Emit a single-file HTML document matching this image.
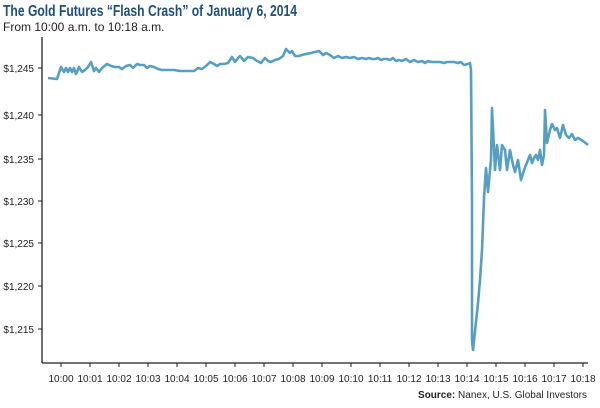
<!DOCTYPE html>
<html><head><style>
body{margin:0;background:#fff;width:600px;height:403px;overflow:hidden;font-family:"Liberation Sans",sans-serif}
</style></head><body>
<svg width="600" height="403" xmlns="http://www.w3.org/2000/svg" font-family="Liberation Sans, sans-serif">
<text x="3" y="16" font-size="15.5" font-weight="bold" fill="#1d4f7c" textLength="294" lengthAdjust="spacingAndGlyphs">The Gold Futures “Flash Crash” of January 6, 2014</text>
<text x="3" y="31" font-size="12" fill="#222">From 10:00 a.m. to 10:18 a.m.</text>
<line x1="42" y1="37" x2="42" y2="363" stroke="#222" stroke-width="1.3"/>
<line x1="42" y1="363" x2="588" y2="363" stroke="#222" stroke-width="1.3"/>
<g font-size="10" fill="#222" text-anchor="end">
<g stroke="#222" stroke-width="1">
<line x1="38" y1="68" x2="42" y2="68"/><line x1="38" y1="115" x2="42" y2="115"/><line x1="38" y1="159" x2="42" y2="159"/><line x1="38" y1="201" x2="42" y2="201"/><line x1="38" y1="243" x2="42" y2="243"/><line x1="38" y1="286" x2="42" y2="286"/><line x1="38" y1="329" x2="42" y2="329"/>
</g>
<text x="34" y="72">$1,245</text><text x="34" y="119">$1,240</text><text x="34" y="163">$1,235</text><text x="34" y="205">$1,230</text><text x="34" y="247">$1,225</text><text x="34" y="290">$1,220</text><text x="34" y="333">$1,215</text>
</g>
<g stroke="#222" stroke-width="1">
<line x1="61" y1="363" x2="61" y2="367"/><line x1="90" y1="363" x2="90" y2="367"/><line x1="119" y1="363" x2="119" y2="367"/><line x1="148" y1="363" x2="148" y2="367"/><line x1="177" y1="363" x2="177" y2="367"/><line x1="206" y1="363" x2="206" y2="367"/><line x1="235" y1="363" x2="235" y2="367"/><line x1="264" y1="363" x2="264" y2="367"/><line x1="293" y1="363" x2="293" y2="367"/><line x1="322" y1="363" x2="322" y2="367"/><line x1="351" y1="363" x2="351" y2="367"/><line x1="380" y1="363" x2="380" y2="367"/><line x1="409" y1="363" x2="409" y2="367"/><line x1="438" y1="363" x2="438" y2="367"/><line x1="467" y1="363" x2="467" y2="367"/><line x1="496" y1="363" x2="496" y2="367"/><line x1="525" y1="363" x2="525" y2="367"/><line x1="554" y1="363" x2="554" y2="367"/><line x1="583" y1="363" x2="583" y2="367"/>
</g>
<g font-size="10" fill="#222" text-anchor="middle">
<text x="61" y="382">10:00</text><text x="90" y="382">10:01</text><text x="119" y="382">10:02</text><text x="148" y="382">10:03</text><text x="177" y="382">10:04</text><text x="206" y="382">10:05</text><text x="235" y="382">10:06</text><text x="264" y="382">10:07</text><text x="293" y="382">10:08</text><text x="322" y="382">10:09</text><text x="351" y="382">10:10</text><text x="380" y="382">10:11</text><text x="409" y="382">10:12</text><text x="438" y="382">10:13</text><text x="467" y="382">10:14</text><text x="496" y="382">10:15</text><text x="525" y="382">10:16</text><text x="554" y="382">10:17</text><text x="583" y="382">10:18</text>
</g>
<polyline fill="none" stroke="#559fc4" stroke-width="2.6" stroke-linejoin="round" points="48,78 57,79 61,67 64,72 66,68 68,72 70,68 72,72 74,68 76,74 79,67 82,72 85,70 88,67 91,62 94,71 96,68 99,72 102,68 107,64 111,66 115,67 119,67 122,69 126,66 130,65 133,68 137,64 140,65 144,65 147,68 150,66 154,67 158,69 162,70 168,70 174,70 180,71 190,71 194,71 198,68 202,69 206,66 210,62 214,64 217,66 220,64 224,64 228,63 232,57 235,62 238,58 240,56 244,61 248,57 253,58 257,61 261,63 265,58 268,61 271,62 275,60 279,59 283,56 286,49 290,53 292,51 295,56 299,56 302,55 306,54 311,53 315,52 319,51 323,55 326,53 330,55 334,58 338,56 342,58 346,57 350,58 354,57 358,59 362,58 366,59 369,58 372,59 375,59 378,58 381,60 384,59 387,59 390,60 393,58 396,61 399,60 402,61 406,59 410,62 414,60 418,62 422,61 425,63 428,61 431,62 435,62 440,62 444,63 447,62 450,62 454,62 458,63 461,62 464,65 468,64 470,63 471,70 472,200 472,340 473,350 476,322 478,303 480,280 482,250 484,198 486,168 488,192 490,170 491,160 492,108 495,170 497,145 500,170 502,145 505,150 507,170 510,150 513,165 515,172 518,160 521,180 524,170 526,165 528,160 530,155 532,163 534,158 536,155 538,160 540,150 542,165 544,155 545,110 547,143 550,130 552,124 555,130 557,128 560,138 563,125 566,135 569,138 572,134 575,140 578,138 583,141 588,145"/>
<text x="587" y="398" font-size="10" fill="#222" text-anchor="end"><tspan font-weight="bold">Source:</tspan> Nanex, U.S. Global Investors</text>
</svg>
</body></html>
